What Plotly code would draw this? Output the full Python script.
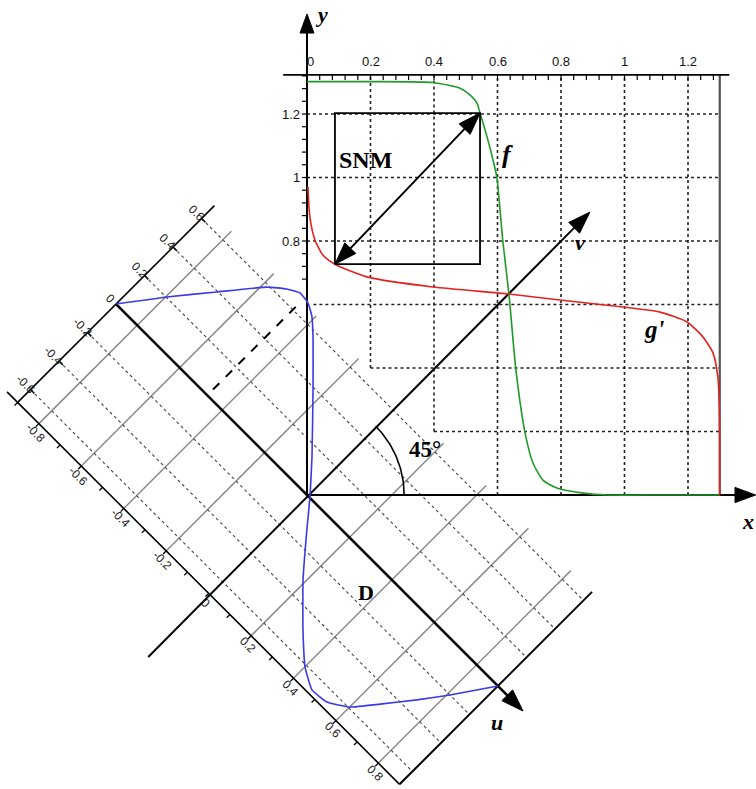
import numpy as np
import plotly.graph_objects as go

# ---- butterfly curves in the (x, y) plane, volts ----
f_x = [0.0, 0.2, 0.397, 0.482, 0.513, 0.535, 0.545, 0.567, 0.586, 0.598, 0.608, 0.617,
       0.636, 0.658, 0.687, 0.712, 0.743, 0.787, 0.87, 0.95, 1.1, 1.3]
f_y = [1.302, 1.302, 1.299, 1.281, 1.26, 1.235, 1.203, 1.128, 1.055, 1.0, 0.898, 0.797,
       0.633, 0.394, 0.195, 0.1, 0.047, 0.022, 0.006, 0.0, 0.0, 0.0]

g_x = [0.003, 0.009, 0.025, 0.05, 0.088, 0.189, 0.397, 0.636, 0.797, 0.995, 1.112,
       1.197, 1.247, 1.279, 1.294, 1.298, 1.3, 1.3]
g_y = [0.97, 0.876, 0.803, 0.756, 0.727, 0.687, 0.655, 0.633, 0.614, 0.592, 0.576,
       0.545, 0.498, 0.447, 0.372, 0.299, 0.15, 0.0]

# largest embedded square (SNM box) corners
snm_lo = (0.088, 0.727)
snm_hi = (0.545, 1.203)

# ---- difference curve D in the rotated (u, v) frame ----
d_u = [-0.90, -0.797, -0.691, -0.584, -0.533, -0.492, -0.450, -0.408, -0.351, -0.233,
       -0.078, 0.012, 0.082, 0.191, 0.309, 0.401, 0.471, 0.535, 0.601, 0.665, 0.742, 0.808, 0.90]
d_v = [0.0, 0.203, 0.396, 0.589, 0.652, 0.684, 0.677, 0.642, 0.565, 0.389,
       0.151, 0.003, -0.123, -0.312, -0.488, -0.610, -0.666, -0.656, -0.593, -0.477,
       -0.333, -0.200, 0.0]

xy_ticks = [0, 0.2, 0.4, 0.6, 0.8, 1, 1.2]
y_labels = [0.8, 1, 1.2]
u_labels = [-0.8, -0.6, -0.4, -0.2, 0, 0.2, 0.4, 0.6, 0.8]
v_labels = [-0.6, -0.4, -0.2, 0, 0.2, 0.4, 0.6]

# ---- geometry ----
PX = 317.5                      # pixels per volt on the xy axes
W, H = 756, 789
X0_PX, Y0_PX = 307, 495         # origin position on the page
KU, KD = 0.945, 0.635           # rotated-frame unit lengths (in volts of the xy axes)
S2 = np.sqrt(2.0)
TOP = 1.323                     # top axis level
XR = 1.3                        # right border


def rot(a, d):
    """rotated-frame (u, D) -> (x, y)"""
    a = np.asarray(a, float) * KU
    d = np.asarray(d, float) * KD
    return (a + d) / S2, (d - a) / S2


fig = go.Figure()


def line(xs, ys, color="black", width=1.5, dash=None, shape="linear", smoothing=1.0):
    ld = dict(color=color, width=width, dash=dash, shape=shape)
    if shape == "spline":
        ld["smoothing"] = smoothing
    fig.add_trace(go.Scatter(x=list(xs), y=list(ys), mode="lines", line=ld,
                             hoverinfo="skip", showlegend=False))


def head(tip, direction, length=0.065, half=0.022):
    t = np.array(tip, float)
    dv = np.array(direction, float)
    dv = dv / np.linalg.norm(dv)
    nv = np.array([-dv[1], dv[0]])
    b = t - dv * length
    pts = [t, b + nv * half, b - nv * half, t]
    fig.add_trace(go.Scatter(x=[p[0] for p in pts], y=[p[1] for p in pts], mode="lines",
                             fill="toself", fillcolor="black", line=dict(color="black", width=1),
                             hoverinfo="skip", showlegend=False))


def text(x, y, s, size=12, family="Liberation Sans", angle=0, color="black",
         xanchor="center", yanchor="middle"):
    fig.add_annotation(x=x, y=y, text=s, showarrow=False, textangle=angle,
                       font=dict(family=family, size=size, color=color),
                       xanchor=xanchor, yanchor=yanchor)


# ---- rotated frame: grid, edges, ticks ----
A_MIN, A_MAX = -0.9, 0.9
D_MIN, D_TOP = -0.69, 0.66

for a in [-0.8, -0.6, -0.4, -0.2, 0.2, 0.4, 0.6, 0.8]:
    xs, ys = rot([a, a], [D_MIN, D_TOP])
    line(xs, ys, color="#8a8a8a", width=1.5)
for d in [-0.6, -0.4, -0.2, 0.2, 0.4, 0.6]:
    xs, ys = rot([A_MIN, A_MAX], [d, d])
    line(xs, ys, color="#444444", width=1.1, dash="dot")

xs, ys = rot([-0.95, A_MAX], [D_MIN, D_MIN])
line(xs, ys, width=1.6)
xs, ys = rot([A_MIN, A_MIN], [D_MIN, 0.69])
line(xs, ys, width=1.6)
xs, ys = rot([A_MAX, A_MAX], [D_MIN, D_TOP])
line(xs, ys, width=2)

for k in range(-9, 9):
    a = k / 10
    xs, ys = rot([a, a], [D_MIN, D_MIN - 0.022])
    line(xs, ys, width=1.3)
for d in v_labels:
    xs, ys = rot([A_MIN, A_MIN + 0.018], [d, d])
    line(xs, ys, width=1.5)

for a in u_labels:
    lx, ly = rot(a + 0.015, -0.735)
    text(float(lx), float(ly), f"{a:g}", size=12, angle=45, color="#222222")
for d in v_labels:
    lx, ly = rot(-0.925, d)
    text(float(lx), float(ly), f"{d:g}", size=12, angle=45, color="#222222")

# dashed marker at the D maximum
xs, ys = rot([-0.47, -0.47], [0.04, 0.655])
line(xs, ys, width=2, dash="dash")

# ---- xy grid (stepped so it clears the rotated frame) ----
v_grid_start = {0.2: 0.4, 0.4: 0.2, 0.6: 0.0, 0.8: 0.0, 1.0: 0.0, 1.2: 0.0}
h_grid_start = {0.2: 0.4, 0.4: 0.2, 0.6: 0.02, 0.8: 0.0, 1.0: 0.0, 1.2: 0.0}
for gx, y_start in v_grid_start.items():
    line([gx, gx], [y_start, TOP], color="#222222", width=1.6, dash="dot")
for gy, x_start in h_grid_start.items():
    line([x_start, XR], [gy, gy], color="#222222", width=1.6, dash="dot")

# right border and top axis
line([XR, XR], [0, TOP], color="#555555", width=2.2)
line([-0.075, 1.33], [TOP, TOP], width=1.8)
for k in range(0, 33):
    tx = k * 0.04
    line([tx, tx], [TOP, TOP - 0.016], width=1.2)
for v in xy_ticks:
    text(v + (0.012 if v == 0 else 0), TOP + 0.042, f"{v:g}", size=13, color="#111111")

# y axis ticks/labels
for k in range(17, 34):
    ty = k * 0.04
    line([0, -0.016], [ty, ty], width=1.2)
for v in y_labels:
    text(-0.016, v, f"{v:g}", size=13, xanchor="right", color="#111111")

# ---- main axes ----
line([0, 1.36], [0, 0], width=2)
head((1.413, 0), (1, 0), length=0.065, half=0.024)
line([0, 0], [0, 1.46], width=2)
head((0, 1.515), (0, 1), length=0.06, half=0.022)

# v axis (diagonal) and u axis
line([-0.5, 0.85], [-0.51, 0.85], width=2)
head((0.891, 0.891), (1, 1), length=0.07, half=0.024)
ux, uy = rot([A_MIN, 0.95], [0, 0])
line(ux, uy, width=2.6)
tx, ty = rot(1.018, 0)
head((float(tx), float(ty)), (1, -1), length=0.07, half=0.024)

# 45 degree arc
th = np.linspace(0, np.pi / 4, 40)
line(0.306 * np.cos(th), 0.306 * np.sin(th), width=1.6)

# ---- curves ----
line(f_x, f_y, color="#1f9a2a", width=1.6, shape="spline", smoothing=0.6)
line(g_x, g_y, color="#e3231f", width=1.6, shape="spline", smoothing=0.6)
bx, by = rot(d_u, d_v)
line(bx, by, color="#3a3ae6", width=1.6, shape="spline", smoothing=0.4)

# SNM square and its diagonal
line([snm_lo[0], snm_hi[0], snm_hi[0], snm_lo[0], snm_lo[0]],
     [snm_lo[1], snm_lo[1], snm_hi[1], snm_hi[1], snm_lo[1]], width=1.8)
line([snm_lo[0] + 0.03, snm_hi[0] - 0.03], [snm_lo[1] + 0.03, snm_hi[1] - 0.03], width=2)
diag = (snm_hi[0] - snm_lo[0], snm_hi[1] - snm_lo[1])
head(snm_hi, diag, length=0.07, half=0.024)
head(snm_lo, (-diag[0], -diag[1]), length=0.07, half=0.024)

# ---- labels ----
SERIF = "Liberation Serif"
text(0.183, 1.055, "<b>SNM</b>", size=24, family=SERIF)
text(0.633, 1.071, "<b><i>f</i></b>", size=26, family=SERIF)
text(1.096, 0.52, "<b><i>g'</i></b>", size=25, family=SERIF)
text(0.86, 0.794, "<b><i>v</i></b>", size=22, family=SERIF)
text(0.598, -0.715, "<b><i>u</i></b>", size=22, family=SERIF)
text(1.389, -0.085, "<b><i>x</i></b>", size=22, family=SERIF)
text(0.047, 1.512, "<b><i>y</i></b>", size=22, family=SERIF)
text(0.372, 0.142, "<b>45°</b>", size=23, family=SERIF)
text(0.186, -0.306, "<b>D</b>", size=22, family=SERIF)

fig.update_layout(
    width=W, height=H, margin=dict(l=0, r=0, t=0, b=0),
    paper_bgcolor="white", plot_bgcolor="white", showlegend=False,
    xaxis=dict(range=[-X0_PX / PX, (W - X0_PX) / PX], visible=False, fixedrange=True),
    yaxis=dict(range=[(Y0_PX - H) / PX, Y0_PX / PX], visible=False, fixedrange=True),
)

fig.write_html("out.html")
